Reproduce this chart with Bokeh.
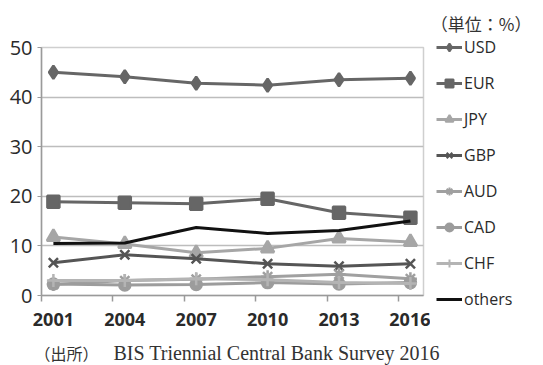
from bokeh.plotting import figure
from bokeh.models import FixedTicker, Legend, LegendItem, Label, Range1d
from bokeh.layouts import row, column
from bokeh.embed import file_html
from bokeh.resources import INLINE

years = [2001, 2004, 2007, 2010, 2013, 2016]
usd = [45.0, 44.1, 42.8, 42.4, 43.5, 43.8]
eur = [18.9, 18.7, 18.5, 19.5, 16.7, 15.7]
jpy = [11.8, 10.4, 8.6, 9.5, 11.5, 10.8]
gbp = [6.6, 8.2, 7.4, 6.4, 5.9, 6.4]
aud = [2.2, 3.0, 3.3, 3.8, 4.3, 3.4]
cad = [2.3, 2.1, 2.2, 2.6, 2.3, 2.6]
chf = [3.0, 3.0, 3.4, 3.2, 2.6, 2.4]
others = [10.5, 10.6, 13.7, 12.5, 13.1, 15.0]
y_ticks = [0, 10, 20, 30, 40, 50]

FONT = "Open Sans"
CJK = "Noto Sans CJK JP"
SERIF = "Liberation Serif"

# ---- main chart ----
p = figure(width=430, height=335, output_backend="svg", toolbar_location=None,
           x_range=Range1d(2000.5, 2016.55), y_range=Range1d(0, 50),
           min_border_left=41, min_border_right=7, min_border_top=47, min_border_bottom=40)
p.outline_line_color = "#cfcfcf"
p.outline_line_width = 1.5
p.background_fill_color = "white"
p.border_fill_color = "white"

p.xgrid.visible = False
p.ygrid.ticker = FixedTicker(ticks=y_ticks)
p.ygrid.grid_line_color = "#bdbdbd"
p.ygrid.grid_line_width = 1.5

xa = p.xaxis[0]
xa.ticker = FixedTicker(ticks=years, minor_ticks=[y - 0.5 for y in years])
xa.major_tick_line_color = None
xa.minor_tick_line_color = "#9a9a9a"
xa.minor_tick_line_width = 1.5
xa.minor_tick_out = 6
xa.minor_tick_in = 0
xa.axis_line_color = "#9a9a9a"
xa.axis_line_width = 1.5
xa.major_label_text_font = FONT
xa.major_label_text_font_size = "18px"
xa.major_label_text_font_style = "bold"
xa.major_label_text_color = "#2a2a2a"
xa.major_label_standoff = 11

ya = p.yaxis[0]
ya.ticker = FixedTicker(ticks=y_ticks)
ya.axis_line_color = "#9a9a9a"
ya.axis_line_width = 1.5
ya.major_tick_line_color = "#9a9a9a"
ya.major_tick_out = 4
ya.major_tick_in = 0
ya.minor_tick_line_color = None
ya.major_label_text_font = FONT
ya.major_label_text_font_size = "20px"
ya.major_label_text_color = "#2a2a2a"
ya.major_label_standoff = 5

series = [
    ("USD", usd, "#666666", "diamond", 13),
    ("EUR", eur, "#666666", "square", 12),
    ("JPY", jpy, "#a6a6a6", "triangle", 13),
    ("GBP", gbp, "#555555", "x", 13),
    ("AUD", aud, "#a0a0a0", "asterisk", 13),
    ("CAD", cad, "#9c9c9c", "circle", 11),
    ("CHF", chf, "#b4b4b4", "cross", 13),
]

for name, vals, col, mk, sz in series:
    p.line(years, vals, line_color=col, line_width=3)
    p.scatter(years, vals, marker=mk, size=sz, fill_color=col,
              line_color=col, line_width=2.5)
p.line(years, others, line_color="#111111", line_width=3)

# ---- legend panel (its own figure; series drawn out of its view, only legend shows) ----
lg = figure(width=113, height=335, output_backend="svg", toolbar_location=None,
            x_range=Range1d(0, 1), y_range=Range1d(0, 1),
            min_border=0, min_border_left=0, min_border_right=0,
            min_border_top=0, min_border_bottom=0)
lg.axis.visible = False
lg.grid.visible = False
lg.outline_line_color = None
lg.background_fill_color = "white"
lg.border_fill_color = "white"

items = []
for name, vals, col, mk, sz in series:
    ln = lg.line(years, vals, line_color=col, line_width=3)
    sc = lg.scatter(years, vals, marker=mk, size=9, fill_color=col,
                    line_color=col, line_width=2)
    items.append(LegendItem(label=name, renderers=[ln, sc]))
lo = lg.line(years, others, line_color="#111111", line_width=3)
items.append(LegendItem(label="others", renderers=[lo]))

legend = Legend(items=items, location=(6, 25), orientation="vertical",
                background_fill_alpha=0, border_line_color=None,
                label_text_font=FONT, label_text_font_size="16px",
                label_text_color="#2a2a2a", glyph_width=26, glyph_height=20,
                label_height=20, spacing=14, padding=0, margin=0,
                label_standoff=2)
lg.add_layout(legend, "center")

lg.add_layout(Label(x=101, y=300, x_units="screen", y_units="screen",
                    text="（単位：%）", text_font=CJK, text_font_size="17px",
                    text_color="#333333", text_align="right"))

# ---- footer ----
ft = figure(width=543, height=30, output_backend="svg", toolbar_location=None,
            x_range=Range1d(0, 1), y_range=Range1d(0, 1),
            min_border=0, min_border_left=0, min_border_right=0,
            min_border_top=0, min_border_bottom=0)
ft.axis.visible = False
ft.grid.visible = False
ft.outline_line_color = None
ft.background_fill_color = "white"
ft.border_fill_color = "white"
ft.add_layout(Label(x=34, y=13, x_units="screen", y_units="screen",
                    text="（出所）", text_font=CJK, text_font_size="16px",
                    text_color="#333333", text_align="left",
                    text_baseline="middle"))
ft.add_layout(Label(x=113, y=13, x_units="screen", y_units="screen",
                    text="BIS Triennial Central Bank Survey 2016",
                    text_font=SERIF, text_font_size="20px",
                    text_color="#333333", text_align="left",
                    text_baseline="middle"))

layout = column(row(p, column(lg)), ft)
open("out.html", "w").write(file_html(layout, INLINE))
